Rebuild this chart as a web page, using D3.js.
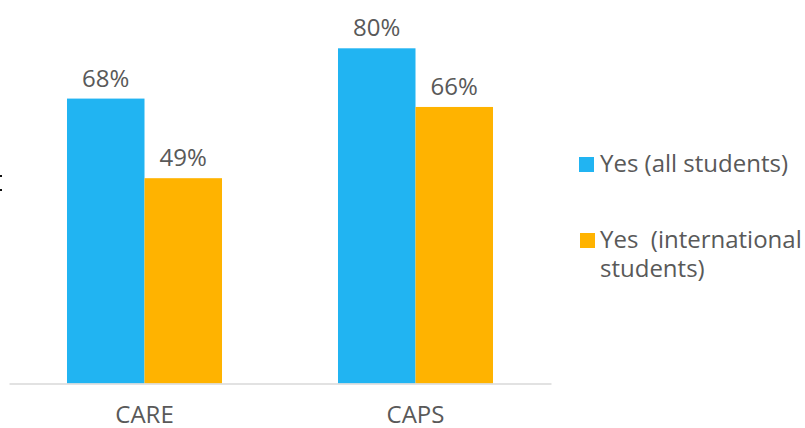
<!DOCTYPE html>
<html>
<head>
<meta charset="utf-8">
<script src="https://cdn.jsdelivr.net/npm/d3@7"></script>
<style>
  body { margin: 0; background: #fff; }
  text { font-family: "Open Sans", sans-serif; fill: #595959; }
</style>
</head>
<body>
<div class="chart"></div>
<script>
const categories = ["CARE", "CAPS"];
const seriesNames = ["Yes (all students)", "Yes  (international students)"];
const allStudents = [0.68, 0.80];
const intlStudents = [0.49, 0.66];
const colors = ["#21b4f2", "#ffb300"];

const width = 805, height = 428;
const margin = { left: 9, right: 254, top: 48, bottom: 44.5 };
const plotW = width - margin.left - margin.right;
const baseY = height - margin.bottom;
const fs = "24px";

const svg = d3.select(".chart")
    .append("svg")
    .attr("width", width)
    .attr("height", height);

const x0 = d3.scaleBand()
    .domain(categories)
    .range([margin.left, margin.left + plotW])
    .paddingInner(0.428)
    .paddingOuter(0.214);

const x1 = d3.scaleBand()
    .domain([0, 1])
    .range([0, x0.bandwidth()]);

const y = d3.scaleLinear()
    .domain([0, 0.8])
    .range([baseY, margin.top + 0.3]);

const rows = categories.map((c, i) => ({ cat: c, vals: [allStudents[i], intlStudents[i]] }));

const groups = svg.selectAll("g.grp")
    .data(rows)
    .enter()
    .append("g")
    .attr("class", "grp")
    .attr("transform", d => "translate(" + x0(d.cat) + ",0)");

groups.selectAll("rect")
    .data(d => d.vals.map((v, k) => ({ v: v, k: k })))
    .enter()
    .append("rect")
    .attr("x", d => x1(d.k))
    .attr("y", d => y(d.v))
    .attr("width", x1.bandwidth())
    .attr("height", d => baseY - y(d.v))
    .attr("fill", d => colors[d.k]);

groups.selectAll("text.val")
    .data(d => d.vals.map((v, k) => ({ v: v, k: k })))
    .enter()
    .append("text")
    .attr("class", "val")
    .attr("text-anchor", "middle")
    .attr("x", d => x1(d.k) + x1.bandwidth() / 2)
    .attr("y", d => y(d.v) - 12)
    .style("font-size", fs)
    .text(d => d3.format(".0%")(d.v));

// x axis
const xAxis = d3.axisBottom(x0).tickSize(0).tickPadding(22);
const ax = svg.append("g")
    .attr("transform", "translate(0," + baseY + ")")
    .call(xAxis);
ax.select(".domain").attr("stroke", "#d9d9d9").attr("stroke-width", 1.5);
ax.selectAll("text")
    .style("font-size", fs)
    .attr("fill", "#595959")
    .attr("font-family", "Open Sans, sans-serif");

// legend
const legend = svg.append("g").attr("transform", "translate(579,0)");
const legY = [164, 240];
legend.selectAll("rect")
    .data(seriesNames)
    .enter()
    .append("rect")
    .attr("x", (d, i) => i === 0 ? 0 : 1)
    .attr("y", (d, i) => legY[i] - 7)
    .attr("width", 15)
    .attr("height", 15)
    .attr("fill", (d, i) => colors[i]);

legend.append("text")
    .attr("x", 21)
    .attr("y", 172)
    .style("font-size", fs)
    .text(seriesNames[0]);

const t2 = legend.append("text")
    .attr("x", 21)
    .attr("y", 248)
    .style("font-size", fs)
    .style("white-space", "pre");
t2.append("tspan").attr("x", 21).text("Yes  (international");
t2.append("tspan").attr("x", 21).attr("dy", 29).text("students)");

// cropped mark at the left edge
svg.append("g").selectAll("rect")
    .data([175, 189])
    .enter()
    .append("rect")
    .attr("x", 0)
    .attr("y", d => d)
    .attr("width", 2)
    .attr("height", 2)
    .attr("fill", "#111");
</script>
</body>
</html>
